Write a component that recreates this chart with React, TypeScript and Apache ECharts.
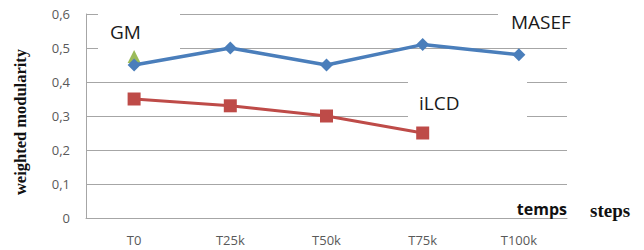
import React, { useEffect, useRef } from "react";
import * as echarts from "echarts";

const categories = ["T0", "T25k", "T50k", "T75k", "T100k"];
const masefValues = [0.45, 0.5, 0.45, 0.51, 0.48];
const ilcdValues = [0.35, 0.33, 0.3, 0.25, null];
const gmValues = [0.475, null, null, null, null];
const yTicks = [0, 0.1, 0.2, 0.3, 0.4, 0.5, 0.6];

export default function App() {
  const ref = useRef<HTMLDivElement>(null);
  useEffect(() => {
    if (!ref.current) return;
    const chart = echarts.init(ref.current, null, { renderer: "svg" });
    const gray = "#A6A6A6";
    const sans = "'Open Sans', sans-serif";
    chart.setOption({
      animation: false,
      backgroundColor: "#ffffff",
      grid: { left: 86, right: 77, top: 14, bottom: 32 },
      xAxis: {
        type: "category",
        data: categories,
        boundaryGap: true,
        axisLine: { show: true, lineStyle: { color: gray, width: 1 } },
        axisTick: { show: false },
        axisLabel: { color: "#595959", fontFamily: sans, fontSize: 13, margin: 15 },
      },
      yAxis: {
        type: "value",
        min: yTicks[0],
        max: yTicks[yTicks.length - 1],
        interval: 0.1,
        axisLine: { show: true, lineStyle: { color: gray, width: 1 } },
        axisTick: { show: false },
        splitLine: { show: true, lineStyle: { color: gray, width: 1 } },
        axisLabel: {
          color: "#595959",
          fontFamily: sans,
          fontSize: 13,
          margin: 16,
          formatter: (v: number) => (v === 0 ? "0" : v.toFixed(1).replace(".", ",")),
        },
      },
      series: [
        {
          name: "MASEF",
          type: "line",
          data: masefValues,
          symbol: "diamond",
          symbolSize: 13,
          lineStyle: { color: "#4A7EBB", width: 3.5 },
          itemStyle: { color: "#4A7EBB" },
          z: 3,
        },
        {
          name: "iLCD",
          type: "line",
          data: ilcdValues,
          symbol: "rect",
          symbolSize: 13,
          lineStyle: { color: "#BE4B48", width: 3 },
          itemStyle: { color: "#BE4B48" },
          z: 3,
        },
        {
          name: "GM",
          type: "line",
          data: gmValues,
          symbol: "triangle",
          symbolSize: 13,
          itemStyle: { color: "#9BBB59" },
          z: 2,
        },
      ],
      graphic: [
        { type: "rect", z: 1, shape: { x: 98, y: 3, width: 82, height: 49 }, style: { fill: "#ffffff" } },
        { type: "rect", z: 1, shape: { x: 498, y: 3, width: 80, height: 38 }, style: { fill: "#ffffff" } },
        { type: "rect", z: 1, shape: { x: 408, y: 70, width: 119, height: 54 }, style: { fill: "#ffffff" } },
        {
          type: "text", z: 5, x: 110, y: 32,
          style: { text: "GM", fontFamily: sans, fontSize: 19, fill: "#1a1a1a", verticalAlign: "middle" },
        },
        {
          type: "text", z: 5, x: 511, y: 22,
          style: { text: "MASEF", fontFamily: sans, fontSize: 19, fill: "#1a1a1a", verticalAlign: "middle" },
        },
        {
          type: "text", z: 5, x: 419, y: 103,
          style: { text: "iLCD", fontFamily: sans, fontSize: 19, fill: "#1a1a1a", verticalAlign: "middle" },
        },
        {
          type: "text", z: 5, x: 567, y: 209,
          style: { text: "temps", fontFamily: sans, fontSize: 16, fontWeight: "bold", fill: "#111111", align: "right", verticalAlign: "middle" },
        },
        {
          type: "text", z: 5, x: 590, y: 210,
          style: { text: "steps", fontFamily: "'Liberation Serif', serif", fontSize: 19, fontWeight: "bold", fill: "#111111", verticalAlign: "middle" },
        },
        {
          type: "text", z: 5, x: 20, y: 122, rotation: Math.PI / 2,
          style: { text: "weighted modularity", fontFamily: "'Liberation Serif', serif", fontSize: 16.5, fontWeight: "bold", fill: "#111111", align: "center", verticalAlign: "middle" },
        },
      ],
    });
    return () => chart.dispose();
  }, []);
  return (
    <div
      ref={ref}
      style={{ position: "fixed", left: 0, top: 0, width: 644, height: 250 }}
    />
  );
}
